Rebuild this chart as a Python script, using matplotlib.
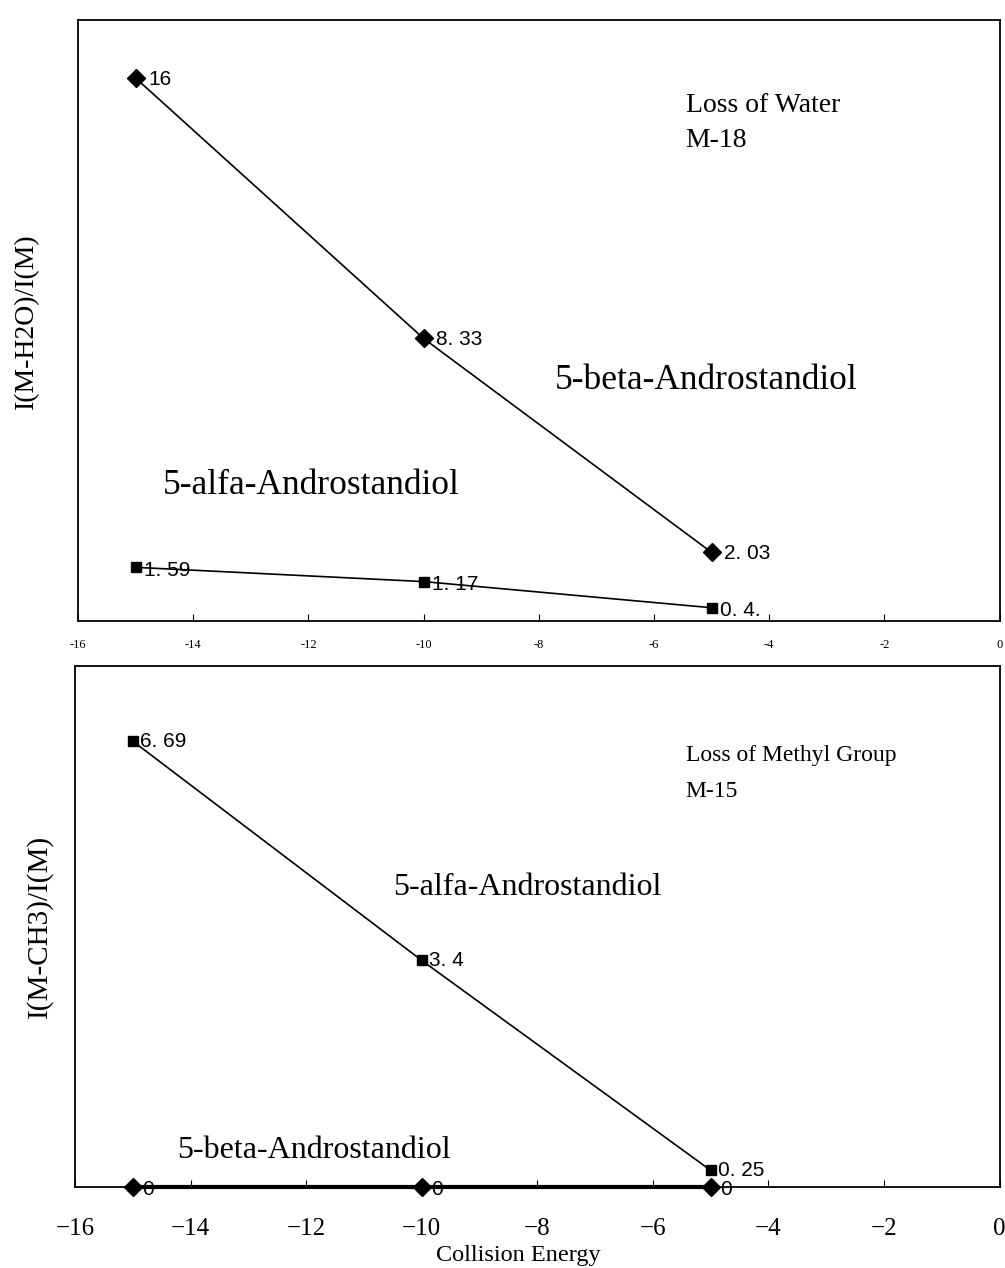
import matplotlib
matplotlib.use("Agg")
import matplotlib.pyplot as plt

energy = [-15, -10, -5]
water_beta = [16, 8.33, 2.03]
water_alfa = [1.59, 1.17, 0.4]
water_beta_labels = ["16", "8. 33", "2. 03"]
water_alfa_labels = ["1. 59", "1. 17", "0. 4."]
methyl_alfa = [6.69, 3.4, 0.25]
methyl_beta = [0, 0, 0]
methyl_alfa_labels = ["6. 69", "3. 4", "0. 25"]
methyl_beta_labels = ["0", "0", "0"]
xticks = [-16, -14, -12, -10, -8, -6, -4, -2, 0]

serif = "Liberation Serif"
lblfont = "Liberation Sans"

fig = plt.figure(figsize=(10.05, 12.68), dpi=100)

# ---- top chart ----
ax1 = fig.add_axes([0.0776, 0.510, 0.917, 0.474])
ax1.plot(energy, water_beta, color="black", lw=1.2, marker="D", ms=9)
ax1.plot(energy, water_alfa, color="black", lw=1.2, marker="s", ms=7)
for x, y, t in zip(energy, water_beta, water_beta_labels):
    ax1.annotate(t, (x, y), xytext=(9, -1), textcoords="offset points",
                 va="center", ha="left", fontsize=15, family=lblfont)
for x, y, t in zip(energy, water_alfa, water_alfa_labels):
    ax1.annotate(t, (x, y), xytext=(6, -2), textcoords="offset points",
                 va="center", ha="left", fontsize=15, family=lblfont)
ax1.set_xlim(-16, 0)
ax1.set_ylim(0, 17.7)
ax1.set_xticks(xticks)
ax1.set_xticklabels([str(v) for v in xticks], fontsize=9, family=serif)
ax1.set_yticks([])
ax1.tick_params(axis="x", direction="in", length=5, pad=13)
ax1.set_ylabel("I(M-H2O)/I(M)", fontsize=20, family=serif, labelpad=28)
ax1.text(-5.45, 15.2, "Loss of Water", fontsize=20, family=serif, va="center")
ax1.text(-5.45, 14.15, "M-18", fontsize=20, family=serif, va="center")
ax1.text(-7.73, 7.1, "5-beta-Androstandiol", fontsize=25.5, family=serif, va="center")
ax1.text(-14.53, 4.0, "5-alfa-Androstandiol", fontsize=25.5, family=serif, va="center")

# ---- bottom chart ----
ax2 = fig.add_axes([0.0746, 0.0639, 0.920, 0.411])
ax2.plot(energy, methyl_alfa, color="black", lw=1.2, marker="s", ms=7)
ax2.plot(energy, methyl_beta, color="black", lw=3, marker="D", ms=9, clip_on=False)
for x, y, t in zip(energy, methyl_alfa, methyl_alfa_labels):
    ax2.annotate(t, (x, y), xytext=(5, 0), textcoords="offset points",
                 va="center", ha="left", fontsize=15, family=lblfont)
for x, y, t in zip(energy, methyl_beta, methyl_beta_labels):
    ax2.annotate(t, (x, y), xytext=(7, -2), textcoords="offset points",
                 va="center", ha="left", fontsize=15, family=lblfont)
ax2.set_xlim(-16, 0)
ax2.set_ylim(0, 7.82)
ax2.set_xticks(xticks)
ax2.set_xticklabels(["\u2212" + str(-v) if v < 0 else str(v) for v in xticks],
                    fontsize=18, family=serif)
ax2.set_yticks([])
ax2.tick_params(axis="x", direction="in", length=5, pad=22)
ax2.set_ylabel("I(M-CH3)/I(M)", fontsize=21, family=serif, labelpad=16)
ax2.text(-5.43, 6.47, "Loss of Methyl Group", fontsize=17, family=serif, va="center")
ax2.text(-5.43, 5.93, "M-15", fontsize=17, family=serif, va="center")
ax2.text(-10.5, 4.5, "5-alfa-Androstandiol", fontsize=23, family=serif, va="center")
ax2.text(-14.24, 0.55, "5-beta-Androstandiol", fontsize=23, family=serif, va="center")
fig.text(518 / 1005, 1 - 1255 / 1268, "Collision Energy", fontsize=17.5, family=serif,
         ha="center", va="center")

for ax in (ax1, ax2):
    for s in ax.spines.values():
        s.set_linewidth(1.3)

fig.savefig("out.png", dpi=100)
